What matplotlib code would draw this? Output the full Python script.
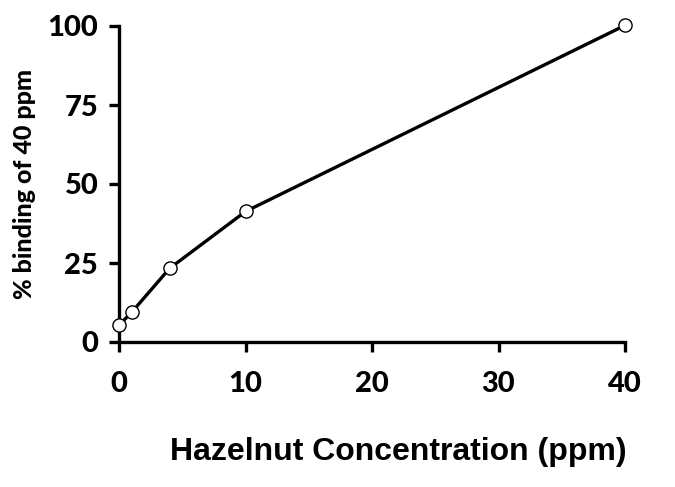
import matplotlib
matplotlib.use("Agg")
import matplotlib.pyplot as plt

concentration = [0, 1, 4, 10, 40]
binding = [5.3, 9.4, 23.3, 41.3, 100.2]
x_ticks = [0, 10, 20, 30, 40]
y_ticks = [0, 25, 50, 75, 100]

W, H = 675, 487
fig = plt.figure(figsize=(W / 100, H / 100), dpi=100)
ax = fig.add_axes([119 / W, 1 - 342 / H, (625 - 119) / W, (342 - 26) / H])

ax.plot(concentration, binding, color="black", lw=2.4, marker="o",
        markersize=9.5, markerfacecolor="white", markeredgecolor="black",
        markeredgewidth=1.0, clip_on=False, zorder=3)

ax.set_xlim(0, 40)
ax.set_ylim(0, 100)
ax.set_xticks(x_ticks)
ax.set_yticks(y_ticks)
for s in ["top", "right"]:
    ax.spines[s].set_visible(False)
for s in ["left", "bottom"]:
    ax.spines[s].set_linewidth(2.4)
ax.tick_params(axis="both", direction="out", length=7, width=2.4)
for lab in ax.get_xticklabels() + ax.get_yticklabels():
    lab.set_fontfamily("Lato")
    lab.set_fontweight(900)
    lab.set_fontsize(21)
ax.tick_params(axis="x", pad=14)
ax.tick_params(axis="y", pad=8)

fig.text(25 / W, 1 - 184 / H, "% binding of 40 ppm", rotation=90,
         ha="center", va="center", fontfamily="Lato", fontweight=900,
         fontsize=18)
fig.text(398 / W, 1 - 452 / H, "Hazelnut Concentration (ppm)",
         ha="center", va="center", fontfamily="Liberation Sans",
         fontweight="bold", fontsize=23)

fig.savefig("out.png", dpi=100)
